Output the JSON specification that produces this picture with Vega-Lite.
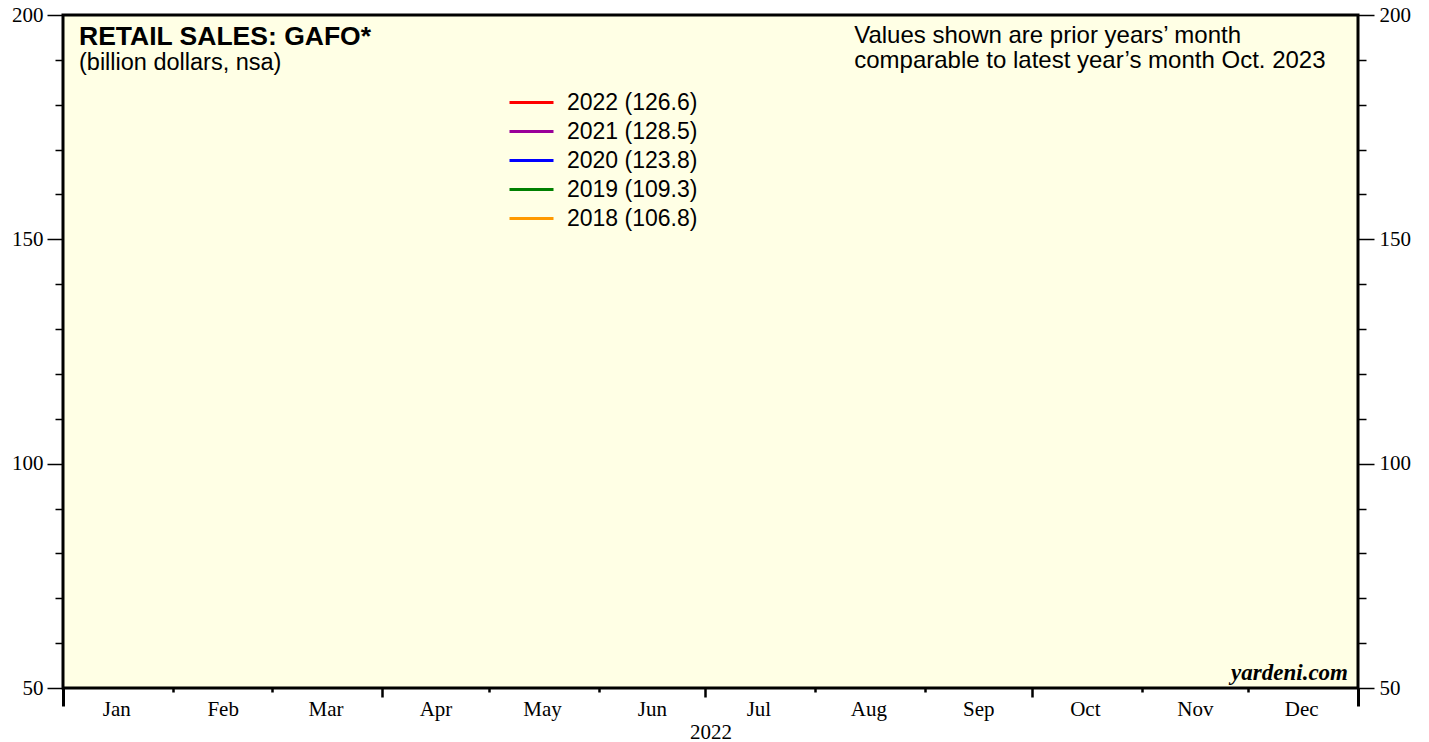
{
  "$schema": "https://vega.github.io/schema/vega-lite/v6.json",
  "width": 1295,
  "height": 673,
  "autosize": {"type": "none"},
  "padding": {"left": 63, "top": 15, "right": 71, "bottom": 54},
  "background": "white",
  "config": {
    "view": {"fill": "#ffffe5", "stroke": "black", "strokeWidth": 3},
    "axis": {
      "grid": false,
      "domain": false,
      "tickColor": "black",
      "labelColor": "black",
      "labelFont": "Liberation Serif",
      "labelFontSize": 21,
      "titleFont": "Liberation Serif",
      "titleFontSize": 21,
      "titleFontWeight": "normal",
      "titleColor": "black"
    }
  },
  "resolve": {"axis": {"x": "independent", "y": "independent"}},
  "layer": [
    {
      "data": {
        "values": [
          {"series": "2022 (126.6)", "date": "2022-10-01", "value": 126.6},
          {"series": "2021 (128.5)", "date": "2022-10-01", "value": 128.5},
          {"series": "2020 (123.8)", "date": "2022-10-01", "value": 123.8},
          {"series": "2019 (109.3)", "date": "2022-10-01", "value": 109.3},
          {"series": "2018 (106.8)", "date": "2022-10-01", "value": 106.8}
        ]
      },
      "mark": {"type": "line", "strokeWidth": 3},
      "encoding": {
        "x": {
          "field": "date",
          "type": "temporal",
          "scale": {
            "type": "utc",
            "domain": [
              {"year": 2022, "month": 1, "date": 1, "utc": true},
              {"year": 2023, "month": 1, "date": 1, "utc": true}
            ]
          },
          "axis": {
            "orient": "bottom",
            "values": [
              {"year": 2022, "month": 2, "date": 1, "utc": true},
              {"year": 2022, "month": 3, "date": 1, "utc": true},
              {"year": 2022, "month": 5, "date": 1, "utc": true},
              {"year": 2022, "month": 6, "date": 1, "utc": true},
              {"year": 2022, "month": 8, "date": 1, "utc": true},
              {"year": 2022, "month": 9, "date": 1, "utc": true},
              {"year": 2022, "month": 11, "date": 1, "utc": true},
              {"year": 2022, "month": 12, "date": 1, "utc": true}
            ],
            "labels": false,
            "tickSize": 4,
            "tickWidth": 2.5,
            "title": null
          }
        },
        "y": {
          "field": "value",
          "type": "quantitative",
          "scale": {"domain": [50, 200], "nice": false, "zero": false},
          "axis": {
            "orient": "left",
            "values": [50, 100, 150, 200],
            "tickSize": 16,
            "tickWidth": 1.5,
            "labelPadding": 4,
            "title": null
          }
        },
        "color": {
          "field": "series",
          "type": "nominal",
          "scale": {
            "domain": ["2022 (126.6)", "2021 (128.5)", "2020 (123.8)", "2019 (109.3)", "2018 (106.8)"],
            "range": ["#ff0000", "#990099", "#0000ff", "#008000", "#ff9900"]
          },
          "legend": {
            "orient": "none",
            "legendX": 456,
            "legendY": 75,
            "title": null,
            "symbolType": "M-2,0H2",
            "symbolSize": 484,
            "symbolStrokeWidth": 3,
            "labelFont": "Liberation Sans",
            "labelFontSize": 23,
            "labelColor": "black",
            "labelOffset": 23,
            "rowPadding": 4,
            "padding": 0
          }
        }
      }
    },
    {
      "data": {"values": []},
      "mark": "rule",
      "encoding": {
        "x": {
          "field": "d",
          "type": "temporal",
          "scale": {"type": "utc"},
          "axis": {
            "orient": "bottom",
            "values": [
              {"year": 2022, "month": 4, "date": 1, "utc": true},
              {"year": 2022, "month": 7, "date": 1, "utc": true},
              {"year": 2022, "month": 10, "date": 1, "utc": true}
            ],
            "labels": false,
            "tickSize": 9,
            "tickWidth": 2.5,
            "title": null
          }
        },
        "y": {
          "field": "v",
          "type": "quantitative",
          "axis": {
            "orient": "left",
            "values": [60, 70, 80, 90, 110, 120, 130, 140, 160, 170, 180, 190],
            "labels": false,
            "tickSize": 8,
            "tickWidth": 1.5,
            "title": null
          }
        }
      }
    },
    {
      "data": {"values": []},
      "mark": "rule",
      "encoding": {
        "x": {
          "field": "d",
          "type": "temporal",
          "scale": {"type": "utc"},
          "axis": {
            "orient": "bottom",
            "values": [
              {"year": 2022, "month": 1, "date": 1, "utc": true},
              {"year": 2023, "month": 1, "date": 1, "utc": true}
            ],
            "labels": false,
            "tickSize": 18,
            "tickWidth": 3,
            "title": null
          }
        },
        "y": {
          "field": "v",
          "type": "quantitative",
          "axis": {
            "orient": "right",
            "values": [50, 100, 150, 200],
            "tickSize": 16,
            "tickWidth": 1.5,
            "labelPadding": 5,
            "title": null
          }
        }
      }
    },
    {
      "data": {"values": []},
      "mark": "rule",
      "encoding": {
        "x": {
          "field": "d",
          "type": "temporal",
          "scale": {"type": "utc"},
          "axis": {
            "orient": "bottom",
            "values": [
              {"year": 2022, "month": 1, "date": 16, "utc": true},
              {"year": 2022, "month": 2, "date": 15, "utc": true},
              {"year": 2022, "month": 3, "date": 16, "utc": true},
              {"year": 2022, "month": 4, "date": 16, "utc": true},
              {"year": 2022, "month": 5, "date": 16, "utc": true},
              {"year": 2022, "month": 6, "date": 16, "utc": true},
              {"year": 2022, "month": 7, "date": 16, "utc": true},
              {"year": 2022, "month": 8, "date": 16, "utc": true},
              {"year": 2022, "month": 9, "date": 16, "utc": true},
              {"year": 2022, "month": 10, "date": 16, "utc": true},
              {"year": 2022, "month": 11, "date": 16, "utc": true},
              {"year": 2022, "month": 12, "date": 16, "utc": true}
            ],
            "labelExpr": "utcFormat(datum.value, '%b')",
            "ticks": false,
            "labelPadding": 10,
            "labelFlush": false,
            "labelOverlap": false,
            "title": "2022",
            "titlePadding": 2
          }
        },
        "y": {
          "field": "v",
          "type": "quantitative",
          "axis": {
            "orient": "right",
            "values": [60, 70, 80, 90, 110, 120, 130, 140, 160, 170, 180, 190],
            "labels": false,
            "tickSize": 8,
            "tickWidth": 1.5,
            "title": null
          }
        }
      }
    },
    {
      "data": {"values": [{"t": "RETAIL SALES: GAFO*"}]},
      "mark": {"type": "text", "align": "left", "baseline": "alphabetic", "font": "Liberation Sans", "fontSize": 26.5, "fontWeight": "bold", "color": "black", "dx": 16, "dy": 30},
      "encoding": {
        "x": {"datum": {"year": 2022, "month": 1, "date": 1, "utc": true}, "type": "temporal", "axis": null},
        "y": {"datum": 200, "type": "quantitative", "axis": null},
        "text": {"field": "t"}
      }
    },
    {
      "data": {"values": [{"t": "(billion dollars, nsa)"}]},
      "mark": {"type": "text", "align": "left", "baseline": "alphabetic", "font": "Liberation Sans", "fontSize": 23.5, "color": "black", "dx": 16, "dy": 55},
      "encoding": {
        "x": {"datum": {"year": 2022, "month": 1, "date": 1, "utc": true}, "type": "temporal", "axis": null},
        "y": {"datum": 200, "type": "quantitative", "axis": null},
        "text": {"field": "t"}
      }
    },
    {
      "data": {"values": [{"t": "Values shown are prior years’ month"}]},
      "mark": {"type": "text", "align": "left", "baseline": "alphabetic", "font": "Liberation Sans", "fontSize": 24, "color": "black", "dy": 28},
      "encoding": {
        "x": {"datum": {"year": 2022, "month": 8, "date": 12, "utc": true}, "type": "temporal", "axis": null},
        "y": {"datum": 200, "type": "quantitative", "axis": null},
        "text": {"field": "t"}
      }
    },
    {
      "data": {"values": [{"t": "comparable to latest year’s month Oct. 2023"}]},
      "mark": {"type": "text", "align": "left", "baseline": "alphabetic", "font": "Liberation Sans", "fontSize": 24, "color": "black", "dy": 53},
      "encoding": {
        "x": {"datum": {"year": 2022, "month": 8, "date": 12, "utc": true}, "type": "temporal", "axis": null},
        "y": {"datum": 200, "type": "quantitative", "axis": null},
        "text": {"field": "t"}
      }
    },
    {
      "data": {"values": [{"t": "yardeni.com"}]},
      "mark": {"type": "text", "align": "right", "baseline": "alphabetic", "font": "Liberation Serif", "fontSize": 23, "fontWeight": "bold", "fontStyle": "italic", "color": "black", "dx": -10, "dy": -8},
      "encoding": {
        "x": {"datum": {"year": 2023, "month": 1, "date": 1, "utc": true}, "type": "temporal", "axis": null},
        "y": {"datum": 50, "type": "quantitative", "axis": null},
        "text": {"field": "t"}
      }
    }
  ]
}
